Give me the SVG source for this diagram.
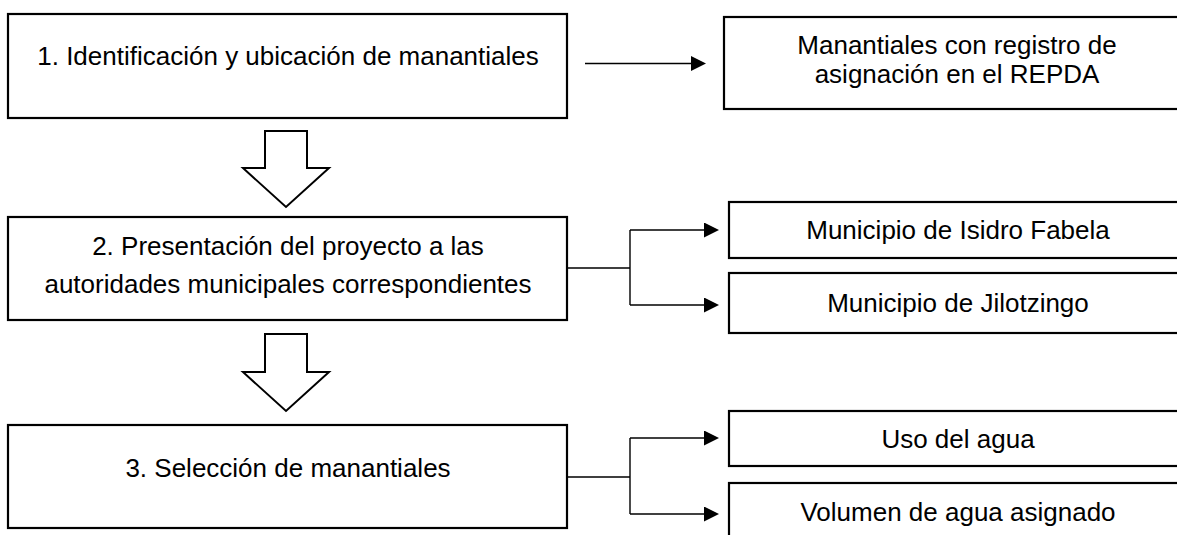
<svg xmlns="http://www.w3.org/2000/svg" width="1177" height="535" viewBox="0 0 1177 535">
  <style>
    .box { fill: #ffffff; stroke: #000000; stroke-width: 2.2; }
    .blk { fill: #ffffff; stroke: #000000; stroke-width: 2; stroke-linejoin: miter; }
    .con { fill: none; stroke: #000000; stroke-width: 1.4; }
    .t { font-family: "Liberation Sans", Arial, sans-serif; font-size: 26px; fill: #000000; text-anchor: middle; }
  </style>
  <defs>
    <marker id="ah" markerUnits="userSpaceOnUse" markerWidth="15" markerHeight="15" refX="0" refY="7.5" orient="auto">
      <path d="M0,0 L15,7.5 L0,15 z" fill="#000000"/>
    </marker>
  </defs>
  <rect width="1177" height="535" fill="#ffffff"/>

  <g id="connectors">
    <path class="con" d="M585,63.5 H691" marker-end="url(#ah)"/>
    <path class="con" d="M567,268 H630 M630,230 V305"/>
    <path class="con" d="M630,230 H704" marker-end="url(#ah)"/>
    <path class="con" d="M630,305 H704" marker-end="url(#ah)"/>
    <path class="con" d="M567,477 H630 M630,438 V514"/>
    <path class="con" d="M630,438 H704" marker-end="url(#ah)"/>
    <path class="con" d="M630,514 H704" marker-end="url(#ah)"/>
    <polygon id="flow1" class="blk" points="265,131 307,131 307,168 329,168 286,207 243,168 265,168"/>
    <polygon id="flow2" class="blk" points="265,334 307,334 307,372 329,372 286,411 243,372 265,372"/>
  </g>

  <g id="step1">
    <rect class="box" x="8" y="14" width="559" height="104"/>
    <text class="t" x="288" y="65">1. Identificación y ubicación de manantiales</text>
  </g>
  <g id="repda">
    <rect class="box" x="724" y="17" width="466" height="92"/>
    <text class="t" x="957" y="54">Manantiales con registro de</text>
    <text class="t" x="957" y="83">asignación en el REPDA</text>
  </g>
  <g id="step2">
    <rect class="box" x="8" y="217" width="559" height="103"/>
    <text class="t" x="288" y="255">2. Presentación del proyecto a las</text>
    <text class="t" x="288" y="293">autoridades municipales correspondientes</text>
  </g>
  <g id="isidro">
    <rect class="box" x="729" y="202" width="461" height="56"/>
    <text class="t" x="958" y="239">Municipio de Isidro Fabela</text>
  </g>
  <g id="jilotzingo">
    <rect class="box" x="729" y="273" width="461" height="60"/>
    <text class="t" x="958" y="312">Municipio de Jilotzingo</text>
  </g>
  <g id="step3">
    <rect class="box" x="8" y="425" width="559" height="103"/>
    <text class="t" x="288" y="477">3. Selección de manantiales</text>
  </g>
  <g id="uso">
    <rect class="box" x="729" y="411" width="461" height="55"/>
    <text class="t" x="958" y="448">Uso del agua</text>
  </g>
  <g id="volumen">
    <rect class="box" x="729" y="483" width="461" height="60"/>
    <text class="t" x="958" y="521">Volumen de agua asignado</text>
  </g>
</svg>
